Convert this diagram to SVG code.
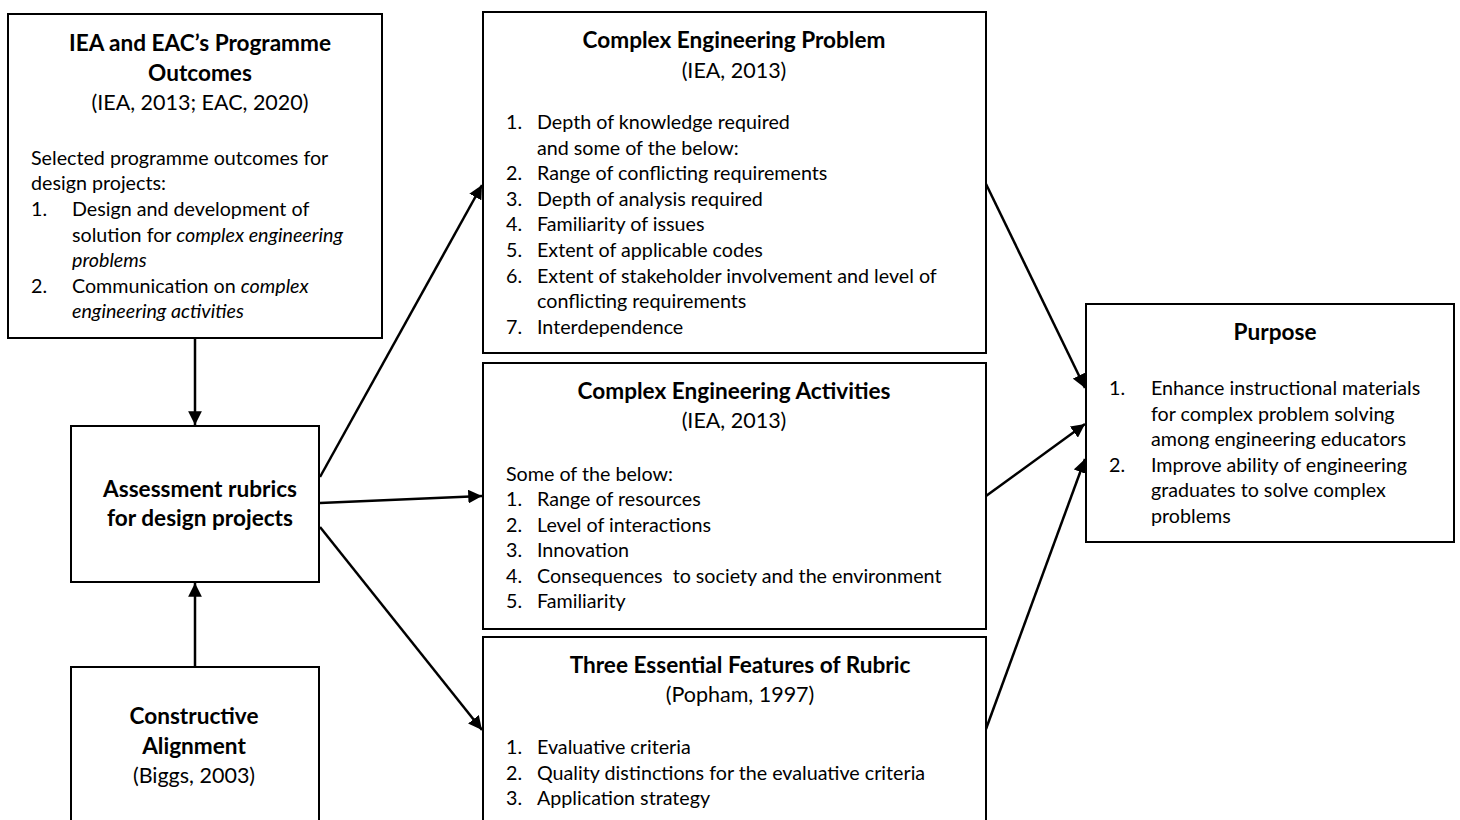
<svg xmlns="http://www.w3.org/2000/svg" width="1460" height="820" viewBox="0 0 1460 820">
<defs>
<style>
.box{fill:#fff;stroke:#000;stroke-width:2}
text{font-family:Lato,"Liberation Sans",sans-serif;fill:#000;font-size:19.7px}
.t{font-weight:bold;font-size:22.6px;text-anchor:middle}
.s{font-size:21.5px;text-anchor:middle}
.i{font-style:italic}
.c{stroke:#000;stroke-width:2.5;fill:none;marker-end:url(#ah)}
</style>
<marker id="ah" viewBox="0 0 10 10" refX="10" refY="5" markerWidth="5.5" markerHeight="5.5" orient="auto" markerUnits="strokeWidth">
<path d="M0,0 L10,5 L0,10 z" fill="#000"/>
</marker>
</defs>
<rect width="1460" height="820" fill="#fff"/>
<g id="connectors">
<line class="c" x1="195" y1="339" x2="195" y2="425"/>
<line class="c" x1="195" y1="667" x2="195" y2="583"/>
<line class="c" x1="320" y1="477" x2="482" y2="185"/>
<line class="c" x1="320" y1="503" x2="482" y2="496"/>
<line class="c" x1="320" y1="527" x2="482" y2="730"/>
<line class="c" x1="986" y1="184" x2="1085" y2="388"/>
<line class="c" x1="986" y1="496" x2="1085" y2="424"/>
<line class="c" x1="986" y1="729" x2="1085" y2="459"/>
</g>
<g id="programme-outcomes">
<rect class="box" x="8" y="14" width="374" height="324"/>
<text class="t" x="200" y="51">IEA and EAC’s Programme</text>
<text class="t" x="200" y="81">Outcomes</text>
<text class="s" x="200" y="110">(IEA, 2013; EAC, 2020)</text>
<text x="31" y="165">Selected programme outcomes for</text>
<text x="31" y="190">design projects:</text>
<text x="31" y="216">1.</text>
<text x="72" y="216">Design and development of</text>
<text x="72" y="242">solution for <tspan class="i">complex engineering</tspan></text>
<text x="72" y="267" class="i">problems</text>
<text x="31" y="293">2.</text>
<text x="72" y="293">Communication on <tspan class="i">complex</tspan></text>
<text x="72" y="318" class="i">engineering activities</text>
</g>
<g id="complex-problem">
<rect class="box" x="483" y="12" width="503" height="341"/>
<text class="t" x="734" y="48">Complex Engineering Problem</text>
<text class="s" x="734" y="78">(IEA, 2013)</text>
<text x="506" y="129">1.</text><text x="537" y="129">Depth of knowledge required</text>
<text x="537" y="155">and some of the below:</text>
<text x="506" y="180">2.</text><text x="537" y="180">Range of conflicting requirements</text>
<text x="506" y="206">3.</text><text x="537" y="206">Depth of analysis required</text>
<text x="506" y="231">4.</text><text x="537" y="231">Familiarity of issues</text>
<text x="506" y="257">5.</text><text x="537" y="257">Extent of applicable codes</text>
<text x="506" y="283">6.</text><text x="537" y="283">Extent of stakeholder involvement and level of</text>
<text x="537" y="308">conflicting requirements</text>
<text x="506" y="334">7.</text><text x="537" y="334">Interdependence</text>
</g>
<g id="complex-activities">
<rect class="box" x="483" y="363" width="503" height="266"/>
<text class="t" x="734" y="399">Complex Engineering Activities</text>
<text class="s" x="734" y="428">(IEA, 2013)</text>
<text x="506" y="481">Some of the below:</text>
<text x="506" y="506">1.</text><text x="537" y="506">Range of resources</text>
<text x="506" y="532">2.</text><text x="537" y="532">Level of interactions</text>
<text x="506" y="557">3.</text><text x="537" y="557">Innovation</text>
<text x="506" y="583">4.</text><text x="537" y="583" xml:space="preserve">Consequences  to society and the environment</text>
<text x="506" y="608">5.</text><text x="537" y="608">Familiarity</text>
</g>
<g id="rubric-features">
<rect class="box" x="483" y="637" width="503" height="200"/>
<text class="t" x="740" y="673">Three Essential Features of Rubric</text>
<text class="s" x="740" y="702">(Popham, 1997)</text>
<text x="506" y="754">1.</text><text x="537" y="754">Evaluative criteria</text>
<text x="506" y="780">2.</text><text x="537" y="780">Quality distinctions for the evaluative criteria</text>
<text x="506" y="805">3.</text><text x="537" y="805">Application strategy</text>
</g>
<g id="assessment-rubrics">
<rect class="box" x="71" y="426" width="248" height="156"/>
<text class="t" x="200" y="497">Assessment rubrics</text>
<text class="t" x="200" y="526">for design projects</text>
</g>
<g id="constructive-alignment">
<rect class="box" x="71" y="667" width="248" height="170"/>
<text class="t" x="194" y="724">Constructive</text>
<text class="t" x="194" y="754">Alignment</text>
<text class="s" x="194" y="783">(Biggs, 2003)</text>
</g>
<g id="purpose">
<rect class="box" x="1086" y="304" width="368" height="238"/>
<text class="t" x="1275" y="340">Purpose</text>
<text x="1109" y="395">1.</text><text x="1151" y="395">Enhance instructional materials</text>
<text x="1151" y="421">for complex problem solving</text>
<text x="1151" y="446">among engineering educators</text>
<text x="1109" y="472">2.</text><text x="1151" y="472">Improve ability of engineering</text>
<text x="1151" y="497">graduates to solve complex</text>
<text x="1151" y="523">problems</text>
</g>
</svg>
